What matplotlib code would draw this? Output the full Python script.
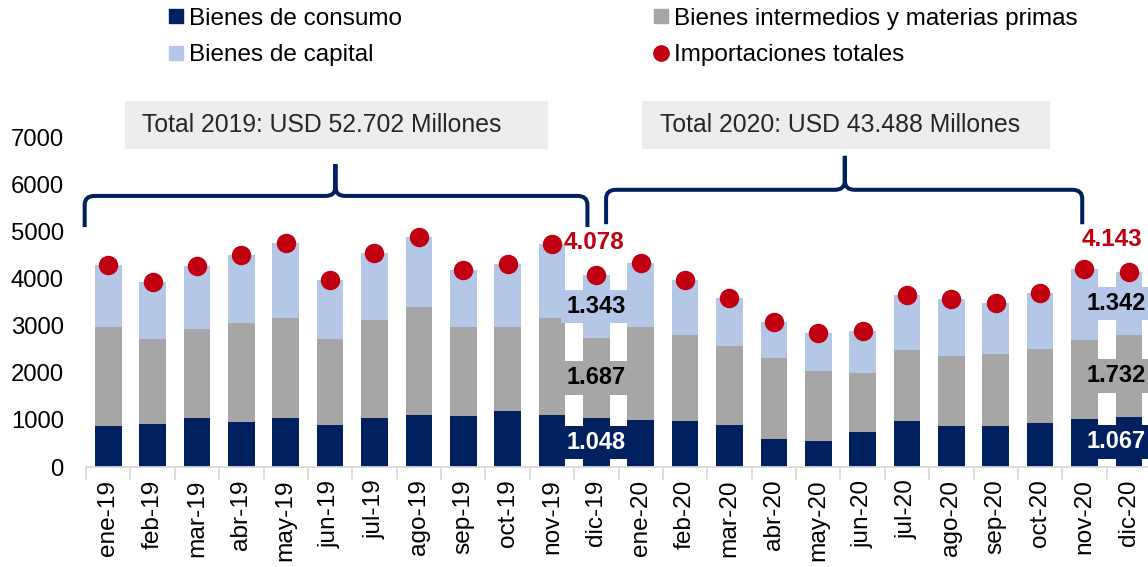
import matplotlib
matplotlib.use("Agg")
import matplotlib.pyplot as plt
import numpy as np
from matplotlib.lines import Line2D
from matplotlib.patches import Rectangle, PathPatch
from matplotlib.path import Path

plt.rcParams['font.family'] = ['Liberation Sans', 'DejaVu Sans']

meses = ['ene-19', 'feb-19', 'mar-19', 'abr-19', 'may-19', 'jun-19',
         'jul-19', 'ago-19', 'sep-19', 'oct-19', 'nov-19', 'dic-19',
         'ene-20', 'feb-20', 'mar-20', 'abr-20', 'may-20', 'jun-20',
         'jul-20', 'ago-20', 'sep-20', 'oct-20', 'nov-20', 'dic-20']
consumo = [880, 920, 1030, 950, 1040, 890, 1050, 1110, 1080, 1180, 1110, 1048,
           990, 980, 900, 590, 550, 750, 980, 870, 870, 940, 1010, 1067]
intermedios = [2080, 1790, 1890, 2110, 2130, 1820, 2070, 2290, 1900, 1800, 2060, 1687,
               1990, 1830, 1660, 1720, 1490, 1240, 1500, 1490, 1520, 1560, 1690, 1732]
capital = [1320, 1220, 1345, 1440, 1590, 1250, 1420, 1480, 1200, 1320, 1550, 1343,
           1350, 1150, 1030, 770, 810, 890, 1160, 1200, 1080, 1200, 1500, 1342]
totales = [4280, 3930, 4265, 4500, 4760, 3960, 4540, 4880, 4180, 4300, 4720, 4078,
           4330, 3960, 3590, 3080, 2850, 2880, 3640, 3560, 3470, 3700, 4200, 4143]
totales_anuales = ['Total 2019: USD 52.702 Millones', 'Total 2020: USD 43.488 Millones']

NAVY = '#002060'
GREY = '#A6A6A6'
LBLUE = '#B4C7E7'
RED = '#C00010'


def fmt(v):
    return f'{v:,.0f}'.replace(',', '.')


def brace(ax, x0, x1, xm, y_end, y_line, y_tip, rx=0.22, ry=190):
    verts = [(x0, y_end), (x0, y_line - ry), (x0, y_line), (x0 + rx, y_line),
             (xm - rx, y_line), (xm, y_line), (xm, y_line + ry), (xm, y_tip),
             (xm, y_line + ry), (xm, y_line), (xm + rx, y_line),
             (x1 - rx, y_line), (x1, y_line), (x1, y_line - ry), (x1, y_end)]
    codes = [Path.MOVETO, Path.LINETO, Path.CURVE3, Path.CURVE3,
             Path.LINETO, Path.CURVE3, Path.CURVE3, Path.LINETO,
             Path.LINETO, Path.CURVE3, Path.CURVE3,
             Path.LINETO, Path.CURVE3, Path.CURVE3, Path.LINETO]
    ax.add_patch(PathPatch(Path(verts, codes), fill=False, edgecolor=NAVY,
                           lw=2.9, clip_on=False, capstyle='butt'))


fig = plt.figure(figsize=(11.48, 5.67), dpi=100)
ax = fig.add_axes([86 / 1148, 100 / 567, 1065 / 1148, 330 / 567])

x = np.arange(len(meses))
c = np.array(consumo)
m = np.array(intermedios)
k = np.array(capital)
w = 0.6
ax.bar(x, c, w, color=NAVY, zorder=2)
ax.bar(x, m, w, bottom=c, color=GREY, zorder=2)
ax.bar(x, k, w, bottom=c + m, color=LBLUE, zorder=2)
ax.plot(x, totales, 'o', color=RED, markersize=13, zorder=4, lw=0)

# etiquetas de los meses de diciembre
for i, xl in [(11, 11.0), (23, 22.72)]:
    segs = [(c[i] / 2, c[i], NAVY, 'white'),
            (c[i] + m[i] / 2, m[i], GREY, 'black'),
            (c[i] + m[i] + k[i] / 2, k[i], LBLUE, 'black')]
    for yc, v, bg, fg in segs:
        ax.text(xl, yc, fmt(v), ha='center', va='center', fontsize=17,
                fontweight='bold', color=fg, zorder=5,
                bbox=dict(boxstyle='square,pad=0.22', fc=bg, ec='none'))

ax.text(10.95, 4760, fmt(totales[11]), ha='center', va='center', fontsize=17.5,
        fontweight='bold', color=RED, zorder=5)
ax.text(22.62, 4820, fmt(totales[23]), ha='center', va='center', fontsize=17.5,
        fontweight='bold', color=RED, zorder=5)

# llaves y recuadros de totales anuales
brace(ax, -0.53, 10.8, 5.12, 5090, 5750, 6420)
brace(ax, 11.22, 21.95, 16.6, 5150, 5880, 6600)
for (bx0, bx1, by0, by1, tx), txt in zip([(0.38, 9.9, 6756, 7762, 0.77),
                                          (12.04, 21.22, 6745, 7773, 12.44)],
                                         totales_anuales):
    ax.add_patch(Rectangle((bx0, by0), bx1 - bx0, by1 - by0, fc='#EDEDED',
                           ec='none', clip_on=False, zorder=1))
    ax.text(tx, (by0 + by1) / 2, txt, ha='left', va='center', fontsize=17.8,
            color='#262626', zorder=2, clip_on=False)

ax.set_xlim(-0.5, 23.5)
ax.set_ylim(0, 7000)
ax.set_yticks(range(0, 7001, 1000))
ax.set_xticks(x)
ax.set_xticklabels(meses, rotation=90)
ax.set_xticks(np.arange(-0.5, 24, 1), minor=True)
ax.tick_params(axis='x', which='major', length=0, pad=9, labelsize=17.6)
ax.tick_params(axis='x', which='minor', length=9, width=1.3, color='#D9D9D9')
ax.tick_params(axis='y', length=0, pad=16, labelsize=17.2)
for s in ['top', 'right', 'left']:
    ax.spines[s].set_visible(False)
ax.spines['bottom'].set_color('#D9D9D9')
ax.spines['bottom'].set_linewidth(1.3)

handles = [
    Line2D([], [], marker='s', color=NAVY, lw=0, markersize=10),
    Line2D([], [], marker='s', color=LBLUE, lw=0, markersize=10),
    Line2D([], [], marker='s', color=GREY, lw=0, markersize=10),
    Line2D([], [], marker='o', color=RED, lw=0, markersize=11),
]
labels = ['Bienes de consumo', 'Bienes de capital',
          'Bienes intermedios y materias primas', 'Importaciones totales']
fig.legend(handles, labels, loc='upper left', bbox_to_anchor=(167 / 1148, 0.986),
           ncol=2, frameon=False, fontsize=17.5, handlelength=0.7,
           handletextpad=0.2, columnspacing=10.3, labelspacing=0.59,
           borderpad=0, borderaxespad=0)

fig.savefig('out.png', dpi=100)
